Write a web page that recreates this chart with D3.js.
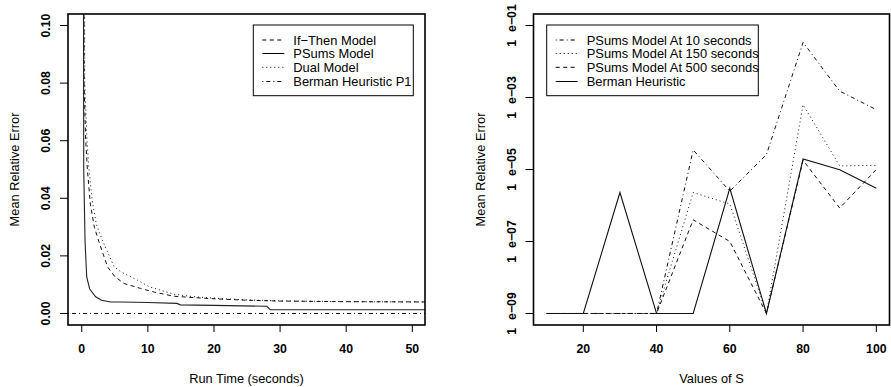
<!DOCTYPE html>
<html>
<head>
<meta charset="utf-8">
<script src="https://cdn.jsdelivr.net/npm/d3@7"></script>
<style>
  body { margin: 0; background: #fff; }
  svg { display: block; }
  text { font-family: "Liberation Sans", Arial, Helvetica, sans-serif; fill: #000; }
  .tick-label { font-size: 12.3px; font-weight: bold; }
  .title { font-size: 12.8px; }
  .legend { font-size: 12.9px; }
</style>
</head>
<body>
<div id="chart"></div>
<script>
// left panel: error vs run time
var runTicks = [0, 10, 20, 30, 40, 50];
var errTicks = [0, 0.02, 0.04, 0.06, 0.08, 0.10];

var ifThenX = [0.3, 0.35, 0.6, 0.86, 1.3, 1.9, 2.6, 3.9, 5, 6.4, 8.9, 11, 13.9, 17, 20.9, 25, 30, 40, 52];
var ifThenY = [0.2, 0.08, 0.06, 0.0498, 0.038, 0.030, 0.0249, 0.0162, 0.0128, 0.0104, 0.0087, 0.0074, 0.0060, 0.0055, 0.0050, 0.0046, 0.0043, 0.0041, 0.0040];

var psumsX = [0.2, 0.3, 0.5, 0.75, 1.2, 2.1, 3, 4.4, 5.9, 10, 14.4, 14.9, 20, 28, 28.5, 40, 52];
var psumsY = [0.2, 0.05, 0.025, 0.0127, 0.0085, 0.0058, 0.0046, 0.0040, 0.0040, 0.0038, 0.0035, 0.0030, 0.0028, 0.0025, 0.0013, 0.0013, 0.0013];

var dualX = [0.35, 0.45, 0.8, 1.1, 1.6, 2.2, 3.1, 4.9, 5.9, 8.4, 10.2, 13.9, 17, 20.9, 25, 30, 40, 52];
var dualY = [0.2, 0.08, 0.06, 0.0498, 0.039, 0.031, 0.0255, 0.0162, 0.0145, 0.0116, 0.0093, 0.0067, 0.0058, 0.0052, 0.0047, 0.0044, 0.0041, 0.0040];

var bermanP1 = 0;

// right panel: error vs S (log scale)
var sValues = [10, 20, 30, 40, 50, 60, 70, 80, 90, 100];
var sTicks = [20, 40, 60, 80, 100];
var logTicks = [-9, -7, -5, -3, -1];
var at10 = [1e-9, 1e-9, 1e-9, 1e-9, 3.5e-5, 2.5e-6, 2.6e-5, 3.4e-2, 1.5e-3, 4.6e-4];
var at150 = [1e-9, 1e-9, 1e-9, 1e-9, 2.3e-6, 1.1e-6, 1e-9, 6.3e-4, 1.26e-5, 1.3e-5];
var at500 = [1e-9, 1e-9, 1e-9, 1e-9, 4.0e-7, 1.0e-7, 1e-9, 1.8e-5, 8.5e-7, 1.0e-5];
var berman = [1e-9, 1e-9, 2.3e-6, 1e-9, 1e-9, 3.0e-6, 1e-9, 1.95e-5, 9.8e-6, 3.0e-6];

var leftSeries = [
    {label: "If\u2212Then Model", xs: ifThenX, ys: ifThenY, dash: "4,3.5", width: 1},
    {label: "PSums Model", xs: psumsX, ys: psumsY, dash: null, width: 1.1},
    {label: "Dual Model", xs: dualX, ys: dualY, dash: "1,3", width: 1},
    {label: "Berman Heuristic P1", xs: null, ys: null, dash: "1,3,4,3", width: 1}
];

var rightSeries = [
    {label: "PSums Model At 10 seconds", ys: at10, dash: "1,3,4,3"},
    {label: "PSums Model At 150 seconds", ys: at150, dash: "1,3"},
    {label: "PSums Model At 500 seconds", ys: at500, dash: "4,3.5"},
    {label: "Berman Heuristic", ys: berman, dash: null}
];

var width = 891, height = 387,
    plotTop = 14, plotBottom = 325;

var svg = d3.select("#chart").append("svg")
    .attr("width", width)
    .attr("height", height);

function panel(x0, x1, clipId) {
    svg.append("clipPath").attr("id", clipId)
        .append("rect")
        .attr("x", x0).attr("y", plotTop)
        .attr("width", x1 - x0).attr("height", plotBottom - plotTop);
}

function drawBox(x0, x1) {
    svg.append("rect")
        .attr("x", x0).attr("y", plotTop)
        .attr("width", x1 - x0).attr("height", plotBottom - plotTop)
        .attr("fill", "none")
        .attr("stroke", "#000")
        .attr("stroke-width", 1.6);
}

function legend(x0, x1, series) {
    var y0 = 25, y1 = 95.7, rowY = [40, 53.5, 67.3, 81.5];
    var g = svg.append("g");
    g.append("rect")
        .attr("x", x0).attr("y", y0)
        .attr("width", x1 - x0).attr("height", y1 - y0)
        .attr("fill", "#fff")
        .attr("stroke", "#000")
        .attr("stroke-width", 1);
    series.forEach(function(s, i) {
        g.append("line")
            .attr("x1", x0 + 9).attr("x2", x0 + 31)
            .attr("y1", rowY[i]).attr("y2", rowY[i])
            .attr("stroke", "#000")
            .attr("stroke-width", 1)
            .attr("stroke-dasharray", s.dash);
        g.append("text")
            .attr("class", "legend")
            .attr("x", x0 + 40)
            .attr("y", rowY[i])
            .attr("dy", "0.36em")
            .text(s.label);
    });
}

// ---------- left panel ----------
var lx = d3.scaleLinear().domain([-2.08, 51.92]).range([68, 425]);
var ly = d3.scaleLinear().domain([-0.004, 0.104]).range([plotBottom, plotTop]);
panel(68, 425, "clipL");

var lineL = d3.line()
    .x(function(d) { return lx(d[0]); })
    .y(function(d) { return ly(d[1]); });

var gL = svg.append("g").attr("clip-path", "url(#clipL)");
leftSeries.forEach(function(s) {
    var pts;
    if (s.xs) {
        pts = d3.zip(s.xs, s.ys);
    } else {
        pts = [[lx.domain()[0], bermanP1], [lx.domain()[1], bermanP1]];
    }
    gL.append("path")
        .attr("d", lineL(pts))
        .attr("fill", "none")
        .attr("stroke", s.dash ? "#111" : "#222")
        .attr("stroke-width", s.width)
        .attr("stroke-dasharray", s.dash);
});

// x ticks
svg.selectAll(".lxt").data(runTicks).enter().append("line")
    .attr("x1", lx).attr("x2", lx)
    .attr("y1", plotBottom).attr("y2", plotBottom + 7)
    .attr("stroke", "#000");
svg.selectAll(".lxl").data(runTicks).enter().append("text")
    .attr("class", "tick-label")
    .attr("x", lx).attr("y", 352.5)
    .attr("text-anchor", "middle")
    .text(function(d) { return d; });
// y ticks
svg.selectAll(".lyt").data(errTicks).enter().append("line")
    .attr("x1", 68 - 8).attr("x2", 68)
    .attr("y1", ly).attr("y2", ly)
    .attr("stroke", "#000");
svg.selectAll(".lyl").data(errTicks).enter().append("text")
    .attr("class", "tick-label")
    .attr("text-anchor", "middle")
    .attr("transform", function(d) { return "translate(49.5," + ly(d) + ") rotate(-90)"; })
    .text(function(d) { return d3.format(".2f")(d); });

svg.append("text").attr("class", "title")
    .attr("x", 246.5).attr("y", 382.5)
    .attr("text-anchor", "middle")
    .text("Run Time (seconds)");
svg.append("text").attr("class", "title")
    .attr("text-anchor", "middle")
    .attr("transform", "translate(18.5," + ((plotTop + plotBottom) / 2) + ") rotate(-90)")
    .text("Mean Relative Error");

drawBox(68, 425);
legend(253.3, 413.3, leftSeries);

// ---------- right panel ----------
var rx = d3.scaleLinear().domain([6.4, 103.6]).range([533.5, 889.5]);
var ry = d3.scaleLog().domain([Math.pow(10, -9.32), Math.pow(10, -0.68)]).range([plotBottom, plotTop]);
panel(533.5, 889.5, "clipR");

var lineR = d3.line()
    .x(function(d) { return rx(d[0]); })
    .y(function(d) { return ry(d[1]); });

var gR = svg.append("g").attr("clip-path", "url(#clipR)");
rightSeries.forEach(function(s) {
    gR.append("path")
        .attr("d", lineR(d3.zip(sValues, s.ys)))
        .attr("fill", "none")
        .attr("stroke", "#111")
        .attr("stroke-width", s.dash ? 1 : 1.1)
        .attr("stroke-dasharray", s.dash);
});

svg.selectAll(".rxt").data(sTicks).enter().append("line")
    .attr("x1", rx).attr("x2", rx)
    .attr("y1", plotBottom).attr("y2", plotBottom + 7)
    .attr("stroke", "#000");
svg.selectAll(".rxl").data(sTicks).enter().append("text")
    .attr("class", "tick-label")
    .attr("x", rx).attr("y", 352.5)
    .attr("text-anchor", "middle")
    .text(function(d) { return d; });

svg.selectAll(".ryt").data(logTicks).enter().append("line")
    .attr("x1", 533.5 - 8).attr("x2", 533.5)
    .attr("y1", function(d) { return ry(Math.pow(10, d)); })
    .attr("y2", function(d) { return ry(Math.pow(10, d)); })
    .attr("stroke", "#000");
var ryl = svg.selectAll(".ryl").data(logTicks).enter().append("text")
    .attr("class", "tick-label")
    .attr("text-anchor", "middle")
    .attr("transform", function(d) { return "translate(516," + ry(Math.pow(10, d)) + ") rotate(-90)"; });
ryl.append("tspan").text("1");
ryl.append("tspan").attr("dx", 8)
    .text(function(d) { return "e\u2212" + d3.format("02d")(-d); });

svg.append("text").attr("class", "title")
    .attr("x", 711.5).attr("y", 382.5)
    .attr("text-anchor", "middle")
    .text("Values of S");
svg.append("text").attr("class", "title")
    .attr("text-anchor", "middle")
    .attr("transform", "translate(485," + ((plotTop + plotBottom) / 2) + ") rotate(-90)")
    .text("Mean Relative Error");

drawBox(533.5, 889.5);
legend(546.7, 758.3, rightSeries);
</script>
</body>
</html>
